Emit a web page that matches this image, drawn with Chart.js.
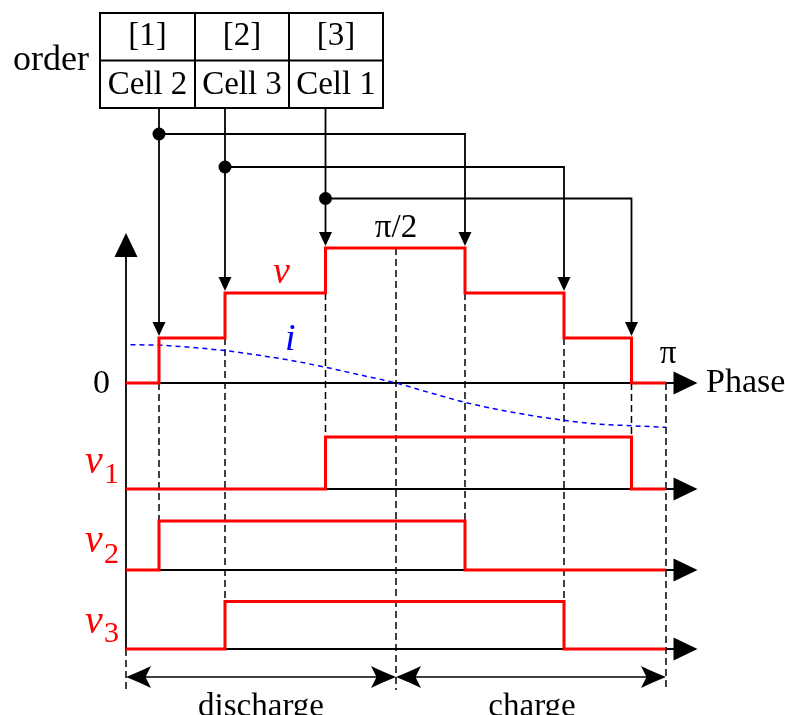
<!DOCTYPE html>
<html>
<head>
<meta charset="utf-8">
<script src="https://cdn.jsdelivr.net/npm/chart.js@4.4.1/dist/chart.umd.min.js"></script>
<style>
  body { margin: 0; background: #fff; }
  #wrap { width: 785px; height: 715px; }
</style>
</head>
<body>
<div id="wrap"><canvas id="phaseChart" width="785" height="715"></canvas></div>
<script>
// switching order of the cells (phase in degrees, 0..180)
const orderLabels = ['[1]', '[2]', '[3]'];
const orderCells = ['Cell 2', 'Cell 3', 'Cell 1'];
const onPhase = [11, 33, 66.5];
const offPhase = [113, 146, 168.5];

// output voltage v = number of inserted cells
const vPhase = [0, 11, 33, 66.5, 113, 146, 168.5, 180];
const vLevel = [0, 1, 2, 3, 2, 1, 0, 0];

// single cell voltages
const v1Phase = [0, 66.5, 168.5, 180];
const v1Level = [0, 1, 0, 0];
const v2Phase = [0, 11, 113, 180];
const v2Level = [0, 1, 0, 0];
const v3Phase = [0, 33, 146, 180];
const v3Level = [0, 1, 0, 0];

// current i (same units as one voltage step)
const iPhase = [1.5, 11, 22, 33, 45, 56, 66.5, 78, 90, 101, 113, 124, 135, 146, 157, 168.5, 180];
const iValue = [0.85, 0.84, 0.79, 0.72, 0.61, 0.49, 0.35, 0.18, 0, -0.21, -0.43, -0.59, -0.72, -0.83, -0.91, -0.95, -0.985];

const W = 785, H = 715;
const SERIF = '"Liberation Serif", "Times New Roman", serif';
const RED = '#ff0000', BLUE = '#0000ff';

// every panel shares the canvas, each has its own baseline and step height
const panels = {
  y:  { base: 383, unit: 45 },
  y1: { base: 489, unit: 52 },
  y2: { base: 570, unit: 49 },
  y3: { base: 649, unit: 47.5 }
};
const cellAxes = ['y1', 'y2', 'y3'];
const cellPhases = [v1Phase, v2Phase, v3Phase];

function panelScale(p) {
  return { type: 'linear', display: false, min: (p.base - H) / p.unit, max: p.base / p.unit };
}

function stepSet(phases, levels, axis) {
  return {
    data: phases.map((p, k) => ({ x: p, y: levels[k] })),
    yAxisID: axis,
    borderColor: RED,
    borderWidth: 3,
    borderJoinStyle: 'miter',
    stepped: 'before',
    pointRadius: 0,
    fill: false
  };
}

function fillArrow(ctx, x, y, dir, len, half) {
  // dir: 'down', 'up', 'right'
  ctx.beginPath();
  ctx.moveTo(x, y);
  if (dir === 'down') { ctx.lineTo(x - half, y - len); ctx.lineTo(x + half, y - len); }
  if (dir === 'up') { ctx.lineTo(x - half, y + len); ctx.lineTo(x + half, y + len); }
  if (dir === 'right') { ctx.lineTo(x - len, y - half); ctx.lineTo(x - len, y + half); }
  ctx.closePath();
  ctx.fill();
}

function stealth(ctx, x, y, dir) {
  const L = 25, h = 11;
  ctx.beginPath();
  ctx.moveTo(x, y);
  ctx.quadraticCurveTo(x - dir * L * 0.6, y - h * 0.55, x - dir * L, y - h);
  ctx.lineTo(x - dir * L * 0.78, y);
  ctx.lineTo(x - dir * L, y + h);
  ctx.quadraticCurveTo(x - dir * L * 0.6, y + h * 0.55, x, y);
  ctx.closePath();
  ctx.fill();
}

function line(ctx, x1, y1, x2, y2) {
  ctx.beginPath();
  ctx.moveTo(x1, y1);
  ctx.lineTo(x2, y2);
  ctx.stroke();
}

function text(ctx, str, x, y, size, align, color, style) {
  ctx.font = (style || '') + ' ' + size + 'px ' + SERIF;
  ctx.fillStyle = color || '#000';
  ctx.textAlign = align || 'center';
  ctx.textBaseline = 'alphabetic';
  ctx.fillText(str, x, y);
}

const diagram = {
  id: 'diagram',
  beforeDatasetsDraw(chart) {
    const ctx = chart.ctx;
    const X = p => chart.scales.x.getPixelForValue(p);
    const Y = (axis, v) => chart.scales[axis].getPixelForValue(v);
    const axisEnd = 190.5;
    const bottom = 690;
    ctx.save();
    ctx.strokeStyle = '#000';
    ctx.fillStyle = '#000';

    // dashed guides from the steps of v down to the cell that switches
    ctx.lineWidth = 1.5;
    ctx.setLineDash([7, 4]);
    cellPhases.forEach((ph, c) => {
      [ph[1], ph[2]].forEach(p => {
        const j = vPhase.indexOf(p);
        const lower = Math.min(vLevel[j - 1], vLevel[j]);
        line(ctx, X(p), Y('y', lower), X(p), Y(cellAxes[c], 1));
      });
    });
    line(ctx, X(90), Y('y', Math.max(...vLevel)), X(90), bottom);
    line(ctx, X(180), Y('y', 0), X(180), bottom);
    line(ctx, X(0), Y('y3', 0), X(0), bottom);
    ctx.setLineDash([]);

    // axes
    ctx.lineWidth = 1.8;
    line(ctx, X(0), Y('y3', 0), X(0), 255);
    fillArrow(ctx, X(0), 233, 'up', 24, 11.5);
    ['y', 'y1', 'y2', 'y3'].forEach(a => {
      const yy = Y(a, 0);
      line(ctx, X(0), yy, X(axisEnd) - 22, yy);
      fillArrow(ctx, X(axisEnd), yy, 'right', 24, 11.5);
    });

    // discharge / charge spans
    ctx.lineWidth = 1.6;
    const ya = 677;
    line(ctx, X(0) + 8, ya, X(90) - 8, ya);
    line(ctx, X(90) + 8, ya, X(180) - 8, ya);
    stealth(ctx, X(0), ya, -1);
    stealth(ctx, X(90), ya, 1);
    stealth(ctx, X(90), ya, -1);
    stealth(ctx, X(180), ya, 1);
    ctx.restore();
  },
  afterDatasetsDraw(chart) {
    const ctx = chart.ctx;
    const X = p => chart.scales.x.getPixelForValue(p);
    const Y = (axis, v) => chart.scales[axis].getPixelForValue(v);
    ctx.save();
    ctx.strokeStyle = '#000';
    ctx.fillStyle = '#000';

    // order table
    const tl = 100, tr = 383, tt = 13, tm = 60.5, tb = 108;
    const cols = [tl, 195, 289, tr];
    ctx.lineWidth = 2;
    ctx.strokeRect(tl, tt, tr - tl, tb - tt);
    line(ctx, tl, tm, tr, tm);
    line(ctx, cols[1], tt, cols[1], tb);
    line(ctx, cols[2], tt, cols[2], tb);
    orderLabels.forEach((lab, k) => {
      const cx = (cols[k] + cols[k + 1]) / 2;
      text(ctx, lab, cx, 45, 33);
      text(ctx, orderCells[k], cx, 94, 33);
    });
    text(ctx, 'order', 89, 70, 36, 'right');

    // connectors from each order slot to its switch-on and switch-off step
    const dotY = [134, 167, 198.5];
    const upperAt = p => {
      const j = vPhase.indexOf(p);
      return Math.max(vLevel[j - 1], vLevel[j]);
    };
    ctx.lineWidth = 1.8;
    onPhase.forEach((p, k) => {
      const xa = X(p), xb = X(offPhase[k]);
      const tipA = Y('y', upperAt(p)) - 2;
      const tipB = Y('y', upperAt(offPhase[k])) - 2;
      line(ctx, xa, tb, xa, tipA - 12);
      fillArrow(ctx, xa, tipA, 'down', 14, 6.5);
      ctx.beginPath();
      ctx.moveTo(xa, dotY[k]);
      ctx.lineTo(xb, dotY[k]);
      ctx.lineTo(xb, tipB - 12);
      ctx.stroke();
      fillArrow(ctx, xb, tipB, 'down', 14, 6.5);
      ctx.beginPath();
      ctx.arc(xa, dotY[k], 6.5, 0, Math.PI * 2);
      ctx.fill();
    });

    // axis texts
    text(ctx, '0', 110, 393, 34, 'right');
    text(ctx, '\u03c0/2', X(90), 237, 33);
    text(ctx, '\u03c0', X(180) + 2, 363, 33);
    text(ctx, 'Phase', 706, 392, 34, 'left');
    text(ctx, 'v', 273, 283, 38, 'left', RED, 'italic');
    text(ctx, 'i', 285, 350, 38, 'left', BLUE, 'italic');

    const subBase = [[473, 483], [551.5, 562.5], [633, 642]];
    subBase.forEach((b, k) => {
      text(ctx, 'v', 85, b[0], 40, 'left', RED, 'italic');
      text(ctx, String(k + 1), 104, b[1], 30, 'left', RED);
    });

    text(ctx, 'discharge', (X(0) + X(90)) / 2, 716, 33);
    text(ctx, 'charge', (X(90) + X(180)) / 2 + 1, 716, 33);
    ctx.restore();
  }
};

const scales = {
  x: { type: 'linear', display: false, min: -126 / 3, max: (W - 126) / 3 }
};
Object.keys(panels).forEach(k => { scales[k] = panelScale(panels[k]); });

new Chart(document.getElementById('phaseChart'), {
  type: 'line',
  data: {
    datasets: [
      stepSet(vPhase, vLevel, 'y'),
      stepSet(v1Phase, v1Level, 'y1'),
      stepSet(v2Phase, v2Level, 'y2'),
      stepSet(v3Phase, v3Level, 'y3'),
      {
        data: iPhase.map((p, k) => ({ x: p, y: iValue[k] })),
        yAxisID: 'y',
        borderColor: BLUE,
        borderWidth: 1.5,
        borderDash: [5, 4],
        cubicInterpolationMode: 'monotone',
        pointRadius: 0,
        fill: false
      }
    ]
  },
  options: {
    responsive: false,
    animation: false,
    devicePixelRatio: 1,
    events: [],
    layout: { padding: 0 },
    plugins: { legend: { display: false }, tooltip: { enabled: false } },
    scales: scales
  },
  plugins: [diagram]
});
</script>
</body>
</html>
